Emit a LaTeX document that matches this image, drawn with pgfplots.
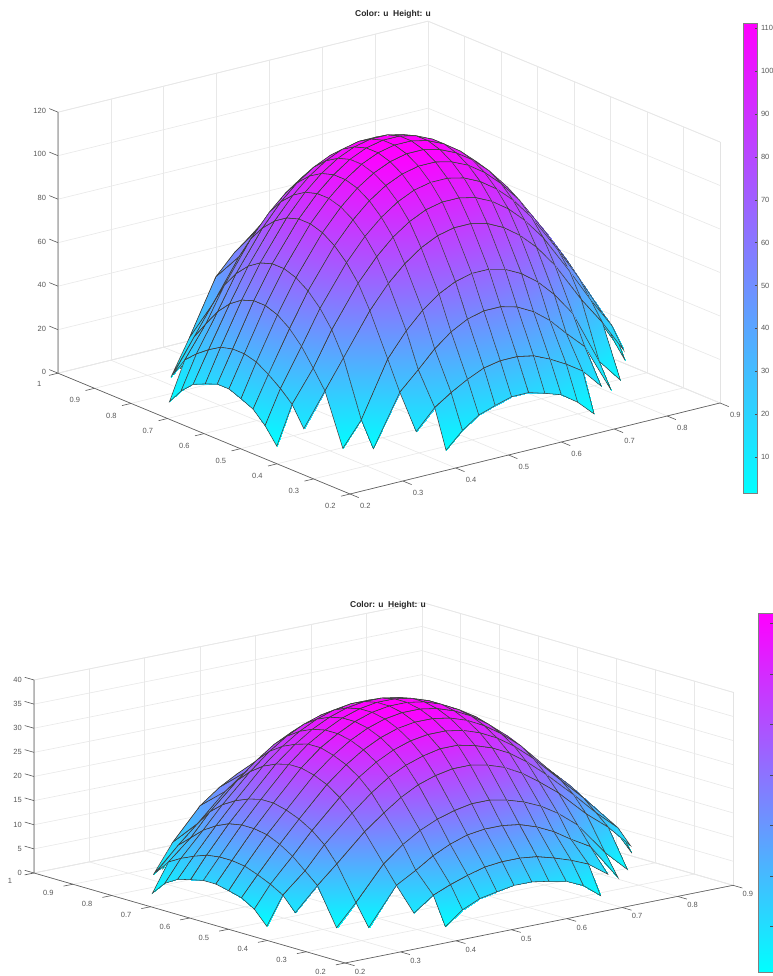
\documentclass[border=0pt]{standalone}
\usepackage{pgfplots}
\usepackage{pgfplotstable}
\usepackage{fontspec}
\setmainfont{Liberation Sans}
\pgfplotsset{compat=1.18}
\definecolor{tk}{gray}{0.35}
\pgfplotstableread{
x y a b
0.241 0.27 nan nan
0.27 0.27 nan nan
0.31 0.27 nan nan
0.345 0.27 nan nan
0.395 0.27 nan nan
0.43 0.27 1.5 0.6
0.461 0.27 8.7 3.4
0.492 0.27 14 5
0.523 0.27 16.5 5.7
0.554 0.27 18.7 6.3
0.586 0.27 18.7 6.3
0.617 0.27 16.5 5.7
0.648 0.27 14 5
0.679 0.27 8.7 3.4
0.71 0.27 1.5 0.6
0.745 0.27 nan nan
0.795 0.27 nan nan
0.835 0.27 nan nan
0.875 0.27 nan nan
0.9 0.27 nan nan
0.241 0.301 nan nan
0.27 0.301 nan nan
0.31 0.301 nan nan
0.345 0.301 nan nan
0.395 0.301 10 3.5
0.43 0.301 19 6.4
0.461 0.301 24 7.9
0.492 0.301 28.2 9.1
0.523 0.301 31.6 10.1
0.554 0.301 33.1 10.5
0.586 0.301 33.1 10.5
0.617 0.301 31.6 10.1
0.648 0.301 28.2 9.1
0.679 0.301 24 7.9
0.71 0.301 19 6.4
0.745 0.301 10 3.5
0.795 0.301 nan nan
0.835 0.301 nan nan
0.875 0.301 nan nan
0.9 0.301 nan nan
0.241 0.346 nan nan
0.27 0.346 nan nan
0.31 0.346 nan nan
0.345 0.346 2 0.6
0.395 0.346 25 8.2
0.43 0.346 33.2 10.5
0.461 0.346 41 12.8
0.492 0.346 46.9 14.5
0.523 0.346 50.9 15.7
0.554 0.346 52.9 16.2
0.586 0.346 52.9 16.2
0.617 0.346 50.9 15.7
0.648 0.346 46.9 14.5
0.679 0.346 41 12.8
0.71 0.346 33.2 10.5
0.745 0.346 25 8.2
0.795 0.346 2 0.6
0.835 0.346 nan nan
0.875 0.346 nan nan
0.9 0.346 nan nan
0.241 0.379 nan nan
0.27 0.379 nan nan
0.31 0.379 2 0.6
0.345 0.379 13 5
0.395 0.379 38 11.9
0.43 0.379 48.8 15.1
0.461 0.379 56.4 17.3
0.492 0.379 62.1 18.9
0.523 0.379 65.9 20
0.554 0.379 67.8 20.7
0.586 0.379 67.8 20.7
0.617 0.379 65.9 20
0.648 0.379 62.1 18.9
0.679 0.379 56.4 17.3
0.71 0.379 48.8 15.1
0.745 0.379 38 11.9
0.795 0.379 13 5
0.835 0.379 2 0.6
0.875 0.379 nan nan
0.9 0.379 nan nan
0.241 0.428 nan nan
0.27 0.428 10 3.5
0.31 0.428 25 8.2
0.345 0.428 38 11.9
0.395 0.428 56.8 17.4
0.43 0.428 67.2 20.5
0.461 0.428 74.4 23
0.492 0.428 79.9 24.9
0.523 0.428 83.6 26.1
0.554 0.428 85.4 26.8
0.586 0.428 85.4 26.8
0.617 0.428 83.6 26.1
0.648 0.428 79.9 24.9
0.679 0.428 74.4 23
0.71 0.428 67.2 20.5
0.745 0.428 56.8 17.4
0.795 0.428 38 11.9
0.835 0.428 25 8.2
0.875 0.428 10 3.5
0.9 0.428 nan nan
0.241 0.46 1.5 0.6
0.27 0.46 19 6.4
0.31 0.46 33.2 10.5
0.345 0.46 48.8 15.1
0.395 0.46 67.2 20.5
0.43 0.46 77.3 23.9
0.461 0.46 84.4 26.4
0.492 0.46 89.7 28.2
0.523 0.46 93.3 29.4
0.554 0.46 95 30.2
0.586 0.46 95 30.2
0.617 0.46 93.3 29.4
0.648 0.46 89.7 28.2
0.679 0.46 84.4 26.4
0.71 0.46 77.3 23.9
0.745 0.46 67.2 20.5
0.795 0.46 48.8 15.1
0.835 0.46 33.2 10.5
0.875 0.46 19 6.4
0.9 0.46 1.5 0.6
0.241 0.492 8.7 3.4
0.27 0.492 24 7.9
0.31 0.492 41 12.8
0.345 0.492 56.4 17.3
0.395 0.492 74.4 23
0.43 0.492 84.4 26.4
0.461 0.492 91.3 28.8
0.492 0.492 96.6 30.6
0.523 0.492 100.1 31.8
0.554 0.492 101.8 32.4
0.586 0.492 101.8 32.4
0.617 0.492 100.1 31.8
0.648 0.492 96.6 30.6
0.679 0.492 91.3 28.8
0.71 0.492 84.4 26.4
0.745 0.492 74.4 23
0.795 0.492 56.4 17.3
0.835 0.492 41 12.8
0.875 0.492 24 7.9
0.9 0.492 8.7 3.4
0.241 0.525 14 5
0.27 0.525 28.2 9.1
0.31 0.525 46.9 14.5
0.345 0.525 62.1 18.9
0.395 0.525 79.9 24.9
0.43 0.525 89.7 28.2
0.461 0.525 96.6 30.6
0.492 0.525 101.8 32.4
0.523 0.525 105.2 33.6
0.554 0.525 107 34.2
0.586 0.525 107 34.2
0.617 0.525 105.2 33.6
0.648 0.525 101.8 32.4
0.679 0.525 96.6 30.6
0.71 0.525 89.7 28.2
0.745 0.525 79.9 24.9
0.795 0.525 62.1 18.9
0.835 0.525 46.9 14.5
0.875 0.525 28.2 9.1
0.9 0.525 14 5
0.241 0.558 16.5 5.7
0.27 0.558 31.6 10.1
0.31 0.558 50.9 15.7
0.345 0.558 65.9 20
0.395 0.558 83.6 26.1
0.43 0.558 93.3 29.4
0.461 0.558 100.1 31.8
0.492 0.558 105.2 33.6
0.523 0.558 108.6 34.8
0.554 0.558 110.4 35.4
0.586 0.558 110.4 35.4
0.617 0.558 108.6 34.8
0.648 0.558 105.2 33.6
0.679 0.558 100.1 31.8
0.71 0.558 93.3 29.4
0.745 0.558 83.6 26.1
0.795 0.558 65.9 20
0.835 0.558 50.9 15.7
0.875 0.558 31.6 10.1
0.9 0.558 16.5 5.7
0.241 0.591 18.7 6.3
0.27 0.591 33.1 10.5
0.31 0.591 52.9 16.2
0.345 0.591 67.8 20.7
0.395 0.591 85.4 26.8
0.43 0.591 95 30.2
0.461 0.591 101.8 32.4
0.492 0.591 107 34.2
0.523 0.591 110.4 35.4
0.554 0.591 112.1 36
0.586 0.591 112.1 36
0.617 0.591 110.4 35.4
0.648 0.591 107 34.2
0.679 0.591 101.8 32.4
0.71 0.591 95 30.2
0.745 0.591 85.4 26.8
0.795 0.591 67.8 20.7
0.835 0.591 52.9 16.2
0.875 0.591 33.1 10.5
0.9 0.591 18.7 6.3
0.241 0.623 18.7 6.3
0.27 0.623 33.1 10.5
0.31 0.623 52.9 16.2
0.345 0.623 67.8 20.7
0.395 0.623 85.4 26.8
0.43 0.623 95 30.2
0.461 0.623 101.8 32.4
0.492 0.623 107 34.2
0.523 0.623 110.4 35.4
0.554 0.623 112.1 36
0.586 0.623 112.1 36
0.617 0.623 110.4 35.4
0.648 0.623 107 34.2
0.679 0.623 101.8 32.4
0.71 0.623 95 30.2
0.745 0.623 85.4 26.8
0.795 0.623 67.8 20.7
0.835 0.623 52.9 16.2
0.875 0.623 33.1 10.5
0.9 0.623 18.7 6.3
0.241 0.656 16.5 5.7
0.27 0.656 31.6 10.1
0.31 0.656 50.9 15.7
0.345 0.656 65.9 20
0.395 0.656 83.6 26.1
0.43 0.656 93.3 29.4
0.461 0.656 100.1 31.8
0.492 0.656 105.2 33.6
0.523 0.656 108.6 34.8
0.554 0.656 110.4 35.4
0.586 0.656 110.4 35.4
0.617 0.656 108.6 34.8
0.648 0.656 105.2 33.6
0.679 0.656 100.1 31.8
0.71 0.656 93.3 29.4
0.745 0.656 83.6 26.1
0.795 0.656 65.9 20
0.835 0.656 50.9 15.7
0.875 0.656 31.6 10.1
0.9 0.656 16.5 5.7
0.241 0.689 14 5
0.27 0.689 28.2 9.1
0.31 0.689 46.9 14.5
0.345 0.689 62.1 18.9
0.395 0.689 79.9 24.9
0.43 0.689 89.7 28.2
0.461 0.689 96.6 30.6
0.492 0.689 101.8 32.4
0.523 0.689 105.2 33.6
0.554 0.689 107 34.2
0.586 0.689 107 34.2
0.617 0.689 105.2 33.6
0.648 0.689 101.8 32.4
0.679 0.689 96.6 30.6
0.71 0.689 89.7 28.2
0.745 0.689 79.9 24.9
0.795 0.689 62.1 18.9
0.835 0.689 46.9 14.5
0.875 0.689 28.2 9.1
0.9 0.689 14 5
0.241 0.722 8.7 3.4
0.27 0.722 24 7.9
0.31 0.722 41 12.8
0.345 0.722 56.4 17.3
0.395 0.722 74.4 23
0.43 0.722 84.4 26.4
0.461 0.722 91.3 28.8
0.492 0.722 96.6 30.6
0.523 0.722 100.1 31.8
0.554 0.722 101.8 32.4
0.586 0.722 101.8 32.4
0.617 0.722 100.1 31.8
0.648 0.722 96.6 30.6
0.679 0.722 91.3 28.8
0.71 0.722 84.4 26.4
0.745 0.722 74.4 23
0.795 0.722 56.4 17.3
0.835 0.722 41 12.8
0.875 0.722 24 7.9
0.9 0.722 8.7 3.4
0.241 0.754 1.5 0.6
0.27 0.754 19 6.4
0.31 0.754 33.2 10.5
0.345 0.754 48.8 15.1
0.395 0.754 67.2 20.5
0.43 0.754 77.3 23.9
0.461 0.754 84.4 26.4
0.492 0.754 89.7 28.2
0.523 0.754 93.3 29.4
0.554 0.754 95 30.2
0.586 0.754 95 30.2
0.617 0.754 93.3 29.4
0.648 0.754 89.7 28.2
0.679 0.754 84.4 26.4
0.71 0.754 77.3 23.9
0.745 0.754 67.2 20.5
0.795 0.754 48.8 15.1
0.835 0.754 33.2 10.5
0.875 0.754 19 6.4
0.9 0.754 1.5 0.6
0.241 0.786 nan nan
0.27 0.786 10 3.5
0.31 0.786 25 8.2
0.345 0.786 38 11.9
0.395 0.786 56.8 17.4
0.43 0.786 67.2 20.5
0.461 0.786 74.4 23
0.492 0.786 79.9 24.9
0.523 0.786 83.6 26.1
0.554 0.786 85.4 26.8
0.586 0.786 85.4 26.8
0.617 0.786 83.6 26.1
0.648 0.786 79.9 24.9
0.679 0.786 74.4 23
0.71 0.786 67.2 20.5
0.745 0.786 56.8 17.4
0.795 0.786 38 11.9
0.835 0.786 25 8.2
0.875 0.786 10 3.5
0.9 0.786 nan nan
0.241 0.85 nan nan
0.27 0.85 nan nan
0.31 0.85 2 0.6
0.345 0.85 18 6.5
0.395 0.85 43 13
0.43 0.85 52 16
0.461 0.85 58 18
0.492 0.85 63 19.2
0.523 0.85 66.5 20.2
0.554 0.85 68 20.8
0.586 0.85 67.8 20.7
0.617 0.85 65.9 20
0.648 0.85 62.1 18.9
0.679 0.85 56.4 17.3
0.71 0.85 48.8 15.1
0.745 0.85 38 11.9
0.795 0.85 13 5
0.835 0.85 2 0.6
0.875 0.85 nan nan
0.9 0.85 nan nan
0.241 0.875 nan nan
0.27 0.875 nan nan
0.31 0.875 nan nan
0.345 0.875 2 0.6
0.395 0.875 25 8.2
0.43 0.875 33.2 10.5
0.461 0.875 41 12.8
0.492 0.875 46.9 14.5
0.523 0.875 50.9 15.7
0.554 0.875 52.9 16.2
0.586 0.875 52.9 16.2
0.617 0.875 50.9 15.7
0.648 0.875 46.9 14.5
0.679 0.875 41 12.8
0.71 0.875 33.2 10.5
0.745 0.875 25 8.2
0.795 0.875 2 0.6
0.835 0.875 nan nan
0.875 0.875 nan nan
0.9 0.875 nan nan
0.241 0.915 nan nan
0.27 0.915 nan nan
0.31 0.915 nan nan
0.345 0.915 nan nan
0.395 0.915 10 3.5
0.43 0.915 19 6.4
0.461 0.915 24 7.9
0.492 0.915 28.2 9.1
0.523 0.915 31.6 10.1
0.554 0.915 33.1 10.5
0.586 0.915 33.1 10.5
0.617 0.915 31.6 10.1
0.648 0.915 28.2 9.1
0.679 0.915 24 7.9
0.71 0.915 19 6.4
0.745 0.915 10 3.5
0.795 0.915 nan nan
0.835 0.915 nan nan
0.875 0.915 nan nan
0.9 0.915 nan nan
0.241 0.944 nan nan
0.27 0.944 nan nan
0.31 0.944 nan nan
0.345 0.944 nan nan
0.395 0.944 nan nan
0.43 0.944 1.5 0.6
0.461 0.944 8.7 3.4
0.492 0.944 14 5
0.523 0.944 16.5 5.7
0.554 0.944 18.7 6.3
0.586 0.944 18.7 6.3
0.617 0.944 16.5 5.7
0.648 0.944 14 5
0.679 0.944 8.7 3.4
0.71 0.944 1.5 0.6
0.745 0.944 nan nan
0.795 0.944 nan nan
0.835 0.944 nan nan
0.875 0.944 nan nan
0.9 0.944 nan nan
}\mesh
\pgfplotsset{
 cool3/.style={colormap={cool}{rgb255=(0,255,255) rgb255=(255,0,255)}},
 box3/.style={
  cool3, clip=false, grid=major, grid style={gray!18,line width=0.6pt},
  axis line style={gray!22,line width=0.6pt}, tick style={draw=none}, tick align=outside,
  major tick length=7pt, xtick pos=left, ytick pos=left, ztick pos=left,
  tick label style={font=\fontsize{7.5}{8}\selectfont,text=tk},
  xticklabel style={xshift=4pt,yshift=-2pt},
  yticklabel style={xshift=-7pt,yshift=-3pt},
  zticklabel style={xshift=-2pt,yshift=-2pt},
  /pgf/number format/assume math mode=true,
  xmin=0.2,xmax=0.9,ymin=0.2,ymax=1,zmin=0,
  xtick={0.2,0.3,...,0.9},ytick={0.2,0.3,...,1},
  yticklabels={0.2,0.3,0.4,0.5,0.6,0.7,0.8,0.9,1},
  xticklabels={0.2,0.3,0.4,0.5,0.6,0.7,0.8,0.9},
 },
 sheet/.style={surf,shader=faceted interp,faceted color=black!75,line width=0.55pt,z buffer=sort,unbounded coords=jump,mesh/rows=20,mesh/cols=20},
 cbar/.style={cool3,scale only axis,enlargelimits=false,xmin=0,xmax=1,xtick=\empty,view={0}{90},
  axis line style={gray,line width=0.5pt},ytick pos=right,tick align=inside,major tick length=3pt,
  tick style={black!70},yticklabel pos=right,
  tick label style={font=\fontsize{7.5}{8}\selectfont,text=tk},
  /pgf/number format/assume math mode=true},
}
\newcommand\boxlines[1]{%
 \draw[tk,line width=0.6pt] (axis cs:0.2,1,#1)--(axis cs:0.2,1,0)--(axis cs:0.2,0.2,0)--(axis cs:0.9,0.2,0);
 \pgfplotsinvokeforeach{0.2,0.3,0.4,0.5,0.6,0.7,0.8,0.9}{\draw[tk,line width=0.6pt] (axis cs:##1,0.2,0)--(axis cs:##1,0.176,0);}
 \pgfplotsinvokeforeach{0.2,0.3,0.4,0.5,0.6,0.7,0.8,0.9,1}{\draw[tk,line width=0.6pt] (axis cs:0.2,##1,0)--(axis cs:0.183,##1,0);}
}
\begin{document}
\begin{tikzpicture}[x=1pt,y=1pt]
\useasboundingbox (0,0) rectangle (772,976);
\fill[white] (0,0) rectangle (772,976);
\begin{axis}[box3,at={(58pt,482pt)},anchor=south west,
 x={(528.6pt,130pt)},y={(-365pt,151pt)},z={(0pt,2.175pt)},zmax=120,
 ztick={0,20,...,120}]
\addplot3[sheet,point meta min=1.6,point meta max=111.2] table[x=x,y=y,z=a]{\mesh};
\boxlines{120}
\pgfplotsinvokeforeach{0,20,40,60,80,100,120}{\draw[tk,line width=0.6pt] (axis cs:0.2,1,#1)--(axis cs:0.2,1.024,#1);}
\end{axis}
\node[font=\bfseries\fontsize{8.5}{9}\selectfont,text=black!85] at (393,962) {Color: u\ \ Height: u};
\begin{axis}[cbar,at={(743pt,483pt)},anchor=south west,width=14.5pt,height=470pt,ymin=1.6,ymax=111.2,ytick={10,20,...,110}]
\addplot3[surf,shader=interp,mesh/rows=2,mesh/cols=2,point meta=y] coordinates {(0,1.6,0)(1,1.6,0)(0,111.2,0)(1,111.2,0)};
\end{axis}
\begin{axis}[box3,at={(34pt,13pt)},anchor=south west,
 x={(554pt,111pt)},y={(-389pt,112.5pt)},z={(0pt,4.825pt)},zmax=40,
 ztick={0,5,...,40},
 xticklabel style={xshift=-1pt,yshift=2pt},
 yticklabel style={xshift=-5pt,yshift=3pt}]
\addplot3[sheet,point meta min=0.5,point meta max=36] table[x=x,y=y,z=b]{\mesh};
\boxlines{40}
\pgfplotsinvokeforeach{0,5,10,15,20,25,30,35,40}{\draw[tk,line width=0.6pt] (axis cs:0.2,1,#1)--(axis cs:0.2,1.024,#1);}
\end{axis}
\node[font=\bfseries\fontsize{8.5}{9}\selectfont,text=black!85] at (388,371) {Color: u\ \ Height: u};
\begin{axis}[cbar,at={(758pt,4pt)},anchor=south west,width=15pt,height=359pt,ymin=0.5,ymax=36,ytick={5,10,...,35},yticklabels={}]
\addplot3[surf,shader=interp,mesh/rows=2,mesh/cols=2,point meta=y] coordinates {(0,0.5,0)(1,0.5,0)(0,36,0)(1,36,0)};
\end{axis}
\end{tikzpicture}
\end{document}
